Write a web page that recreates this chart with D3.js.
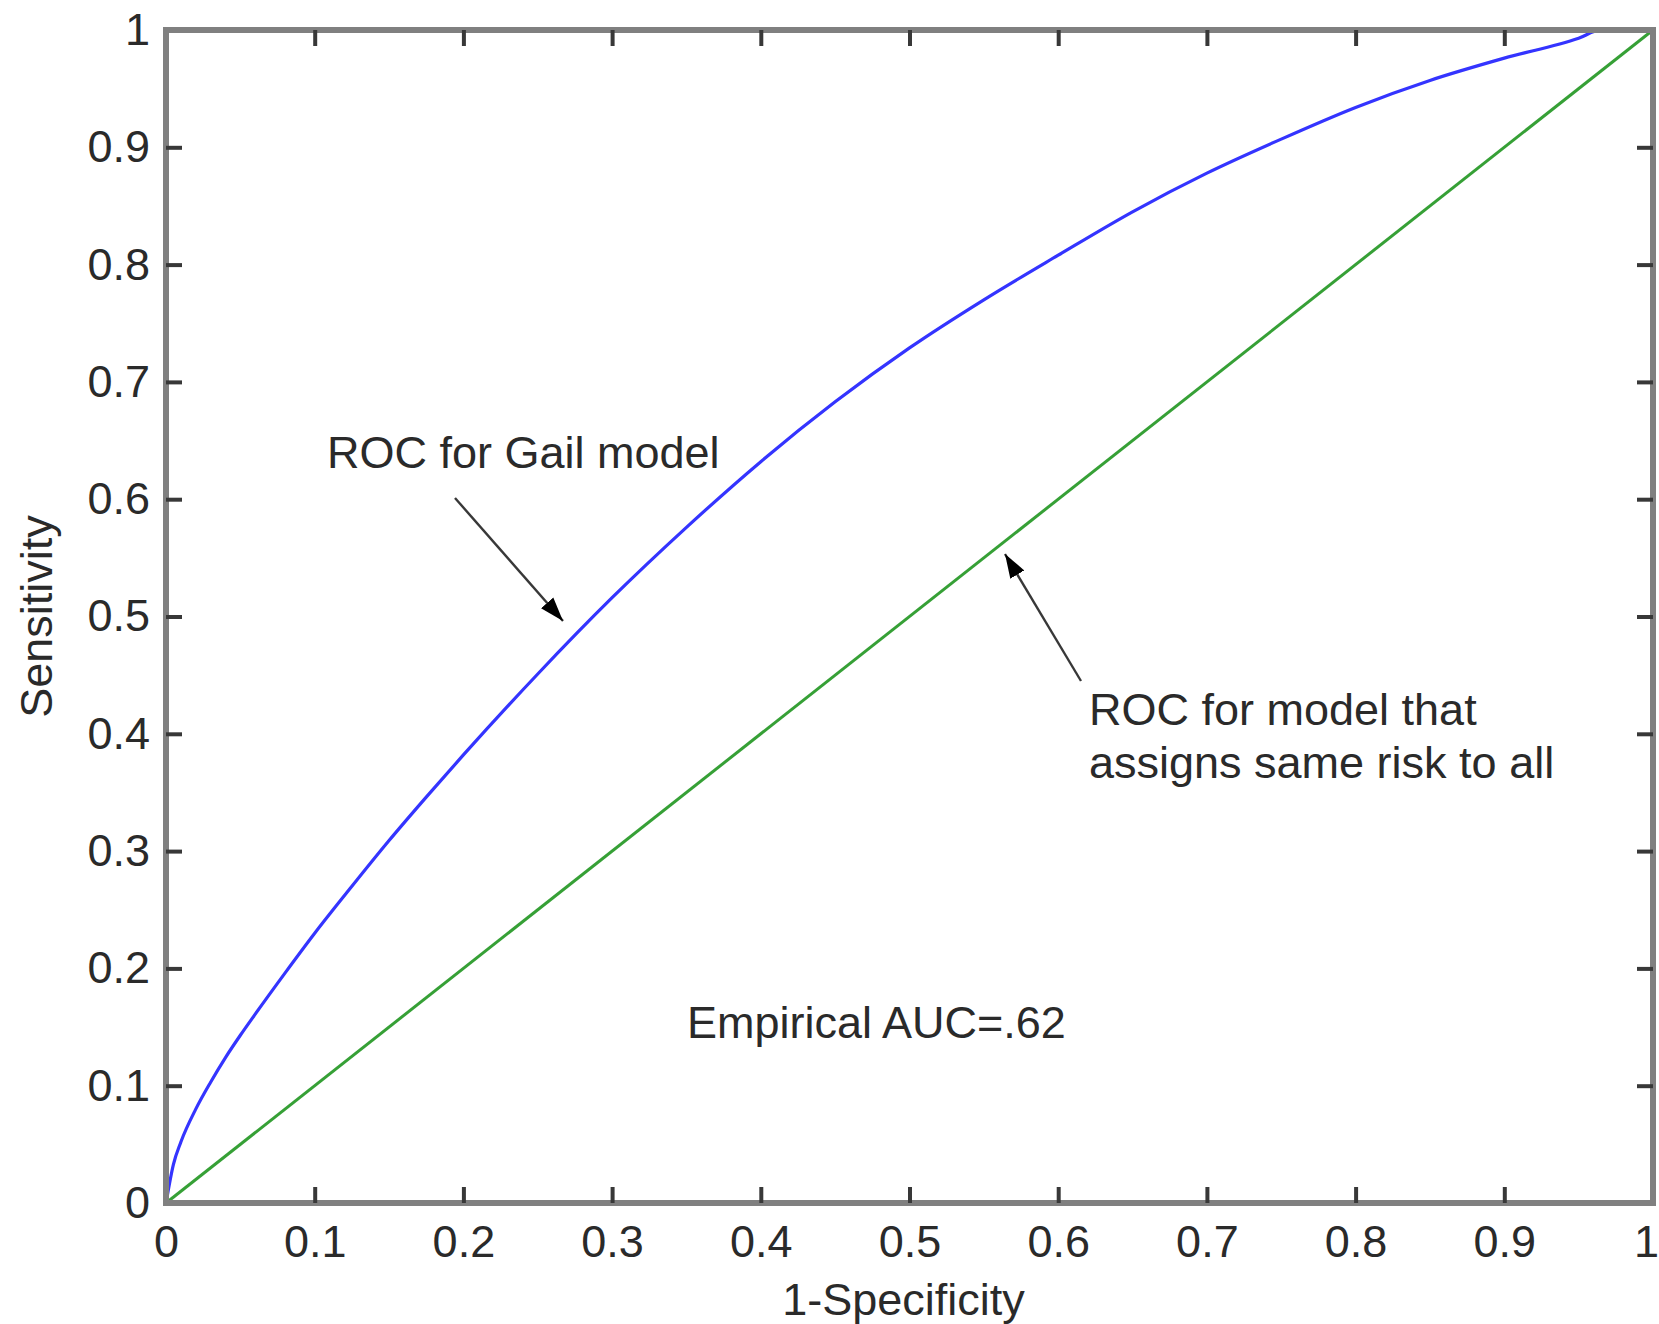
<!DOCTYPE html>
<html>
<head>
<meta charset="utf-8">
<script src="https://cdn.jsdelivr.net/npm/d3@7"></script>
<style>
  html, body { margin: 0; padding: 0; background: #ffffff; }
  svg { display: block; }
  text { font-family: "Liberation Sans", Arial, Helvetica, sans-serif; fill: #2a2a2a; }
</style>
</head>
<body>
<svg id="chart" width="1659" height="1324"></svg>
<script>
// ---- data ----
const gailFPR = [0, 0.005, 0.01, 0.02, 0.03, 0.04, 0.05, 0.06, 0.08, 0.10, 0.125, 0.15, 0.175, 0.20, 0.25, 0.30, 0.35, 0.40, 0.45, 0.50, 0.55, 0.60, 0.65, 0.70, 0.75, 0.80, 0.85, 0.90, 0.95, 0.965, 1.0];
const gailTPR = [0, 0.033, 0.052, 0.080, 0.103, 0.124, 0.143, 0.161, 0.196, 0.230, 0.270, 0.309, 0.346, 0.382, 0.451, 0.516, 0.576, 0.632, 0.683, 0.729, 0.770, 0.808, 0.845, 0.878, 0.907, 0.934, 0.957, 0.976, 0.993, 1.0, 1.0];
const sameRiskFPR = [0, 1];
const sameRiskTPR = [0, 1];
const xTickValues = [0, 0.1, 0.2, 0.3, 0.4, 0.5, 0.6, 0.7, 0.8, 0.9, 1];
const xTickLabels = ["0", "0.1", "0.2", "0.3", "0.4", "0.5", "0.6", "0.7", "0.8", "0.9", "1"];
const yTickValues = [0, 0.1, 0.2, 0.3, 0.4, 0.5, 0.6, 0.7, 0.8, 0.9, 1];
const yTickLabels = ["0", "0.1", "0.2", "0.3", "0.4", "0.5", "0.6", "0.7", "0.8", "0.9", "1"];
const xAxisTitle = "1-Specificity";
const yAxisTitle = "Sensitivity";
const annotGail = ["ROC for Gail model"];
const annotSame = ["ROC for model that", "assigns same risk to all"];
const annotAUC = "Empirical AUC=.62";

// ---- layout ----
const svg = d3.select("#chart");
const pLeft = 166, pRight = 1653, pTop = 30, pBottom = 1203;
const x = d3.scaleLinear().domain([0, 1]).range([pLeft, pRight]);
const y = d3.scaleLinear().domain([0, 1]).range([pBottom, pTop]);
const fontSize = 45;

// lines
const line = d3.line().x(d => x(d[0])).y(d => y(d[1])).curve(d3.curveMonotoneX);
const gail = gailFPR.map((v, i) => [v, gailTPR[i]]);
const same = sameRiskFPR.map((v, i) => [v, sameRiskTPR[i]]);

svg.append("path").datum(same).attr("d", line)
  .attr("fill", "none").attr("stroke", "#36a036").attr("stroke-width", 3);
svg.append("path").datum(gail).attr("d", line)
  .attr("fill", "none").attr("stroke", "#3434ff").attr("stroke-width", 3.2)
  .attr("stroke-linejoin", "round");

// frame
svg.append("rect").attr("x", pLeft).attr("y", pTop)
  .attr("width", pRight - pLeft).attr("height", pBottom - pTop)
  .attr("fill", "none").attr("stroke", "#808080").attr("stroke-width", 6);

function styleAxis(g) {
  g.select(".domain").remove();
  g.selectAll(".tick line").attr("stroke", "#383838").attr("stroke-width", 4);
  g.selectAll(".tick text")
    .style("font-size", fontSize + "px")
    .style("font-family", '"Liberation Sans", Arial, sans-serif')
    .attr("fill", "#2a2a2a");
}

const xFmt = (d, i) => xTickLabels[i];
const yFmt = (d, i) => yTickLabels[i];

const gx = svg.append("g").attr("transform", `translate(0,${pBottom})`)
  .call(d3.axisBottom(x).tickValues(xTickValues).tickFormat(xFmt).tickSizeInner(-16).tickSizeOuter(0).tickPadding(22));
styleAxis(gx);
const gxt = svg.append("g").attr("transform", `translate(0,${pTop})`)
  .call(d3.axisTop(x).tickValues(xTickValues.slice(1, -1)).tickFormat("").tickSizeInner(-16).tickSizeOuter(0));
styleAxis(gxt);
const gy = svg.append("g").attr("transform", `translate(${pLeft},0)`)
  .call(d3.axisLeft(y).tickValues(yTickValues).tickFormat(yFmt).tickSizeInner(-16).tickSizeOuter(0).tickPadding(16));
styleAxis(gy);
const gyr = svg.append("g").attr("transform", `translate(${pRight},0)`)
  .call(d3.axisRight(y).tickValues(yTickValues.slice(1, -1)).tickFormat("").tickSizeInner(-16).tickSizeOuter(0));
styleAxis(gyr);
gx.selectAll(".tick").filter(d => d === 0 || d === 1).select("line").remove();
gy.selectAll(".tick").filter(d => d === 0 || d === 1).select("line").remove();
// keep the last x label inside the page
gx.selectAll(".tick").filter(d => d === 1).select("text").attr("dx", -7);

// axis titles
svg.append("text").attr("x", (pLeft + pRight) / 2 - 6).attr("y", 1315)
  .attr("text-anchor", "middle").style("font-size", fontSize + "px").text(xAxisTitle);
svg.append("text").attr("transform", `translate(52,${(pTop + pBottom) / 2}) rotate(-90)`)
  .attr("text-anchor", "middle").style("font-size", fontSize + "px").text(yAxisTitle);

// annotations
svg.append("text").attr("x", 327).attr("y", 468).style("font-size", fontSize + "px").text(annotGail[0]);
svg.selectAll(".annotSame").data(annotSame).enter().append("text")
  .attr("x", 1089).attr("y", (d, i) => 725 + i * 53)
  .style("font-size", fontSize + "px").text(d => d);
svg.append("text").attr("x", 687).attr("y", 1038).style("font-size", fontSize + "px").text(annotAUC);

// arrows
const defs = svg.append("defs");
defs.append("marker").attr("id", "ah").attr("viewBox", "0 0 10 10")
  .attr("refX", 10).attr("refY", 5).attr("markerWidth", 10).attr("markerHeight", 10)
  .attr("markerUnits", "strokeWidth").attr("orient", "auto")
  .append("path").attr("d", "M0,1.6 L10,5 L0,8.4 Z").attr("fill", "#000");

svg.append("line").attr("x1", 455).attr("y1", 498).attr("x2", 563).attr("y2", 621)
  .attr("stroke", "#383838").attr("stroke-width", 2.4).attr("marker-end", "url(#ah)");
svg.append("line").attr("x1", 1081).attr("y1", 681).attr("x2", 1005).attr("y2", 554)
  .attr("stroke", "#383838").attr("stroke-width", 2.4).attr("marker-end", "url(#ah)");
</script>
</body>
</html>
